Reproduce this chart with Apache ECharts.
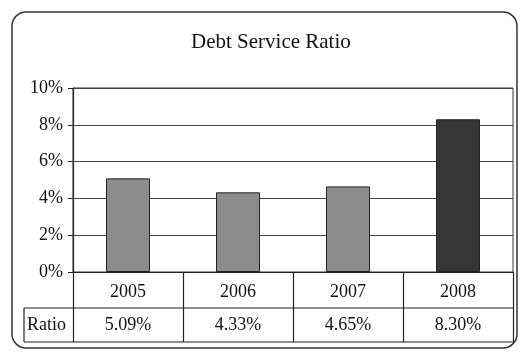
<!DOCTYPE html>
<html>
<head>
<meta charset="utf-8">
<script src="https://cdn.jsdelivr.net/npm/echarts@6/dist/echarts.min.js"></script>
<style>
html,body{margin:0;padding:0;background:#fff;}
#chart{width:520px;height:354px;}
</style>
</head>
<body>
<div id="chart"></div>
<script>
var titleText = 'Debt Service Ratio';
var years = ['2005', '2006', '2007', '2008'];
var ratios = [5.09, 4.33, 4.65, 8.30];
var barColors = ['#8c8c8c', '#8c8c8c', '#8c8c8c', '#363636'];
var rowLabel = 'Ratio';
var yTicks = [0, 2, 4, 6, 8, 10];

var FONT = '"Liberation Serif", "DejaVu Serif", serif';
var chart = echarts.init(document.getElementById('chart'));

var ratioLabels = ratios.map(function (v) { return v.toFixed(2) + '%'; });

var option = {
  backgroundColor: '#fff',
  animation: false,
  title: {
    text: titleText,
    left: 186,
    top: 27,
    textStyle: { fontFamily: FONT, fontSize: 21, fontWeight: 'normal', color: '#111' }
  },
  grid: {
    left: 73, right: 7, top: 88, height: 184,
    show: true, borderColor: '#333', borderWidth: 1, backgroundColor: 'transparent'
  },
  xAxis: [{
    type: 'category',
    data: years,
    position: 'bottom',
    axisLine: { show: true, lineStyle: { color: '#222', width: 1.2 } },
    axisTick: { show: true, alignWithLabel: false, length: 70, lineStyle: { color: '#222', width: 1.2 } },
    axisLabel: { margin: 11, fontFamily: FONT, fontSize: 18, color: '#111' }
  }, {
    type: 'category',
    data: ratioLabels,
    position: 'bottom',
    offset: 35,
    axisLine: { show: false },
    axisTick: { show: false },
    axisLabel: { margin: 9, fontFamily: FONT, fontSize: 18, color: '#111' }
  }],
  yAxis: {
    type: 'value',
    min: yTicks[0],
    max: yTicks[yTicks.length - 1],
    interval: yTicks[1] - yTicks[0],
    axisLine: { show: true, lineStyle: { color: '#222', width: 1.2 } },
    axisTick: { show: true, length: 5, lineStyle: { color: '#222' } },
    axisLabel: { margin: 10, fontFamily: FONT, fontSize: 18, color: '#111', formatter: '{value}%' },
    splitLine: { show: true, lineStyle: { color: '#444', width: 1 } }
  },
  series: [{
    type: 'bar',
    data: ratios.map(function (v, i) {
      return { value: v, itemStyle: { color: barColors[i], borderColor: '#222', borderWidth: 1 } };
    }),
    barWidth: 44
  }]
};
chart.setOption(option);

// table lines and frame
var yZero = chart.convertToPixel({ yAxisIndex: 0 }, 0);
var xRight = 513;
var rowTop = yZero + 36;
var rowBottom = yZero + 70;
var tableLeft = 24;
chart.setOption({
  graphic: [
    { type: 'rect', shape: { x: 12, y: 12, width: 505, height: 336, r: 14 },
      style: { fill: 'none', stroke: '#333', lineWidth: 1.5 }, silent: true },
    { type: 'line', shape: { x1: tableLeft, y1: rowTop, x2: xRight, y2: rowTop },
      style: { stroke: '#222', lineWidth: 1.2 } },
    { type: 'line', shape: { x1: tableLeft, y1: rowBottom, x2: xRight, y2: rowBottom },
      style: { stroke: '#222', lineWidth: 1.2 } },
    { type: 'line', shape: { x1: tableLeft, y1: rowTop, x2: tableLeft, y2: rowBottom },
      style: { stroke: '#222', lineWidth: 1.2 } },
    { type: 'text', left: 27, top: rowTop + 8,
      style: { text: rowLabel, font: '18px ' + FONT, fill: '#111' } }
  ]
});
</script>
</body>
</html>
